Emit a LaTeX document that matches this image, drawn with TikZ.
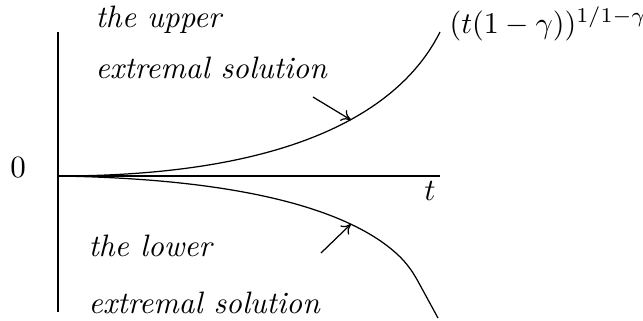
\documentclass[tikz,border=0pt]{standalone}
\usetikzlibrary{arrows.meta}
\begin{document}
\begin{tikzpicture}[x=0.3226pt,y=-0.3226pt,
  ln/.style={line width=0.4pt},
  lab/.style={inner sep=0pt,font=\itshape,anchor=west},
  arr/.style={ln,-{To[length=3pt,width=4pt]}}]
\useasboundingbox (0,0) rectangle (643,320);
\coordinate (O) at (58,176);
\coordinate (ytop) at (58,32);
\coordinate (ybot) at (58,312);
\coordinate (xend) at (440,176);
\coordinate (uend) at (440,32);
\coordinate (lend) at (438,318);
\draw[ln] (ytop) -- (ybot);
\draw[ln] (O) -- (xend);
\draw[ln] (O) .. controls (290,176) and (400,112) .. (uend);
\draw[ln] (O) .. controls (250,179) and (345,212) .. (390,248)
  .. controls (405,260) and (412,270) .. (420,285) -- (lend);
\node (zero) at (18,168) {$0$};
\node (tl) at (430,191) {$t$};
\node[lab] (up1) at (95,20) {the upper};
\node[lab] (up2) at (95,68) {extremal solution};
\node[lab] (lo1) at (88,246) {the lower};
\node[lab] (lo2) at (88,303) {extremal solution};
\node[inner sep=0pt,anchor=west,scale=0.97] (fn) at (449,24) {$(t(1-\gamma))^{1/1-\gamma}$};
\coordinate (a1s) at (313,97);
\coordinate (a1e) at (351,120);
\coordinate (a2s) at (321,253);
\coordinate (a2e) at (351,224);
\draw[arr] (a1s) -- (a1e);
\draw[arr] (a2s) -- (a2e);
\end{tikzpicture}
\end{document}
